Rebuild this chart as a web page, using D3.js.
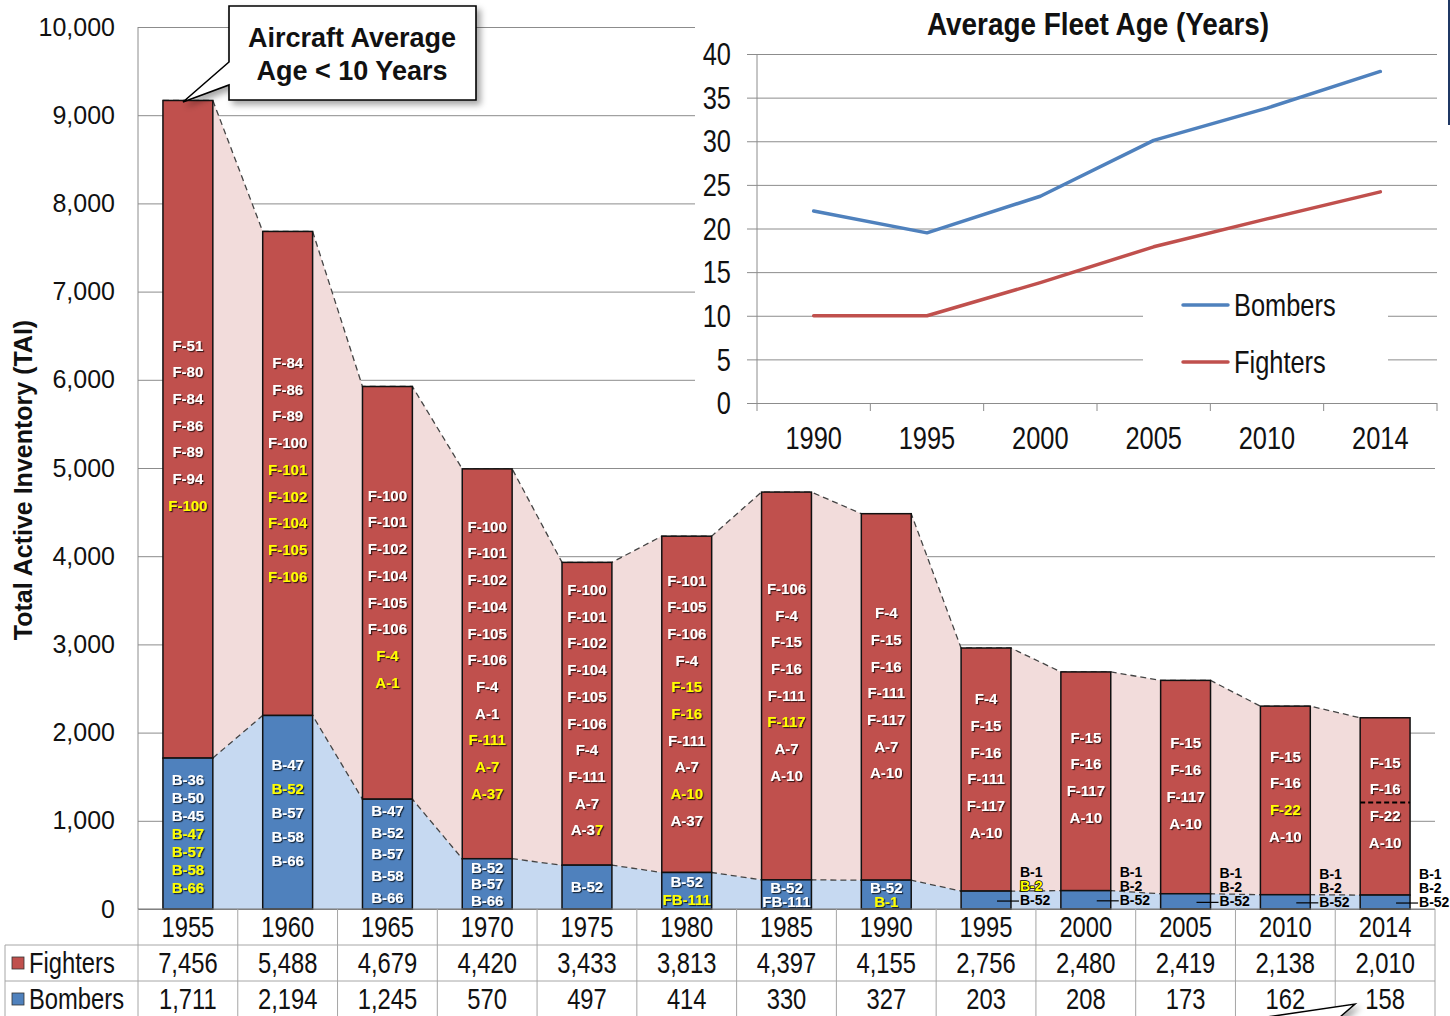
<!DOCTYPE html>
<html>
<head>
<meta charset="utf-8">
<script src="https://cdn.jsdelivr.net/npm/d3@7"></script>
<style>
  body { margin: 0; background: #fff; }
  svg { display: block; }
  text { font-family: 'Liberation Sans', Arial, sans-serif; }
</style>
</head>
<body>
<svg id="chart" width="1450" height="1016"></svg>
<script>

// Inventory by year (from the table)
var years = ["1955", "1960", "1965", "1970", "1975", "1980", "1985", "1990", "1995", "2000", "2005", "2010", "2014"];
var fighters = [7456, 5488, 4679, 4420, 3433, 3813, 4397, 4155, 2756, 2480, 2419, 2138, 2010];
var bombers = [1711, 2194, 1245, 570, 497, 414, 330, 327, 203, 208, 173, 162, 158];

// Aircraft types in each bar ("*" = yellow, text after "|" = yellow)
var fighterTypes = [
    ["F-51", "F-80", "F-84", "F-86", "F-89", "F-94", "*F-100"],
    ["F-84", "F-86", "F-89", "F-100", "*F-101", "*F-102", "*F-104", "*F-105", "*F-106"],
    ["F-100", "F-101", "F-102", "F-104", "F-105", "F-106", "*F-4", "*A-1"],
    ["F-100", "F-101", "F-102", "F-104", "F-105", "F-106", "F-4", "A-1", "*F-111", "*A-7", "*A-37"],
    ["F-100", "F-101", "F-102", "F-104", "F-105", "F-106", "F-4", "F-111", "A-7", "A-3|7"],
    ["F-101", "F-105", "F-106", "F-4", "*F-15", "*F-16", "F-111", "A-7", "*A-10", "A-37"],
    ["F-106", "F-4", "F-15", "F-16", "F-111", "*F-117", "A-7", "A-10"],
    ["F-4", "F-15", "F-16", "F-111", "F-117", "A-7", "A-10"],
    ["F-4", "F-15", "F-16", "F-111", "F-117", "A-10"],
    ["F-15", "F-16", "F-117", "A-10"],
    ["F-15", "F-16", "F-117", "A-10"],
    ["F-15", "F-16", "*F-22", "A-10"],
    ["F-15", "F-16", "F-22", "A-10"]
];
var bomberTypes = [
    ["B-36", "B-50", "B-45", "*B-47", "*B-57", "*B-58", "*B-66"],
    ["B-47", "*B-52", "B-57", "B-58", "B-66"],
    ["B-47", "B-52", "B-57", "B-58", "B-66"],
    ["B-52", "B-57", "B-66"],
    ["B-52"],
    ["B-52", "*FB-111"],
    ["B-52", "FB-111"],
    ["B-52", "*B-1"],
    ["B-1", "*B-2", "B-52"],
    ["B-1", "B-2", "B-52"],
    ["B-1", "B-2", "B-52"],
    ["B-1", "B-2", "B-52"],
    ["B-1", "B-2", "B-52"]
];

// Inset: average fleet age
var ageYears = ["1990", "1995", "2000", "2005", "2010", "2014"];
var bomberAge = [22, 19.5, 23.7, 30.1, 33.8, 38];
var fighterAge = [10, 10, 13.8, 17.9, 21.1, 24.2];

var yTicks = [0, 1000, 2000, 3000, 4000, 5000, 6000, 7000, 8000, 9000, 10000];
var ageTicks = [0, 5, 10, 15, 20, 25, 30, 35, 40];

var RED = "#c0504d", BLUE = "#4f81bd", PINK = "#f2dcdb", LIGHTBLUE = "#c6d9f1";
var YELLOW = "#ffff00", GRID = "#8c8c8c";

var svg = d3.select("#chart");
var defs = svg.append("defs");
defs.append("filter").attr("id", "ts").attr("x", "-20%").attr("y", "-30%").attr("width", "150%").attr("height", "170%")
    .append("feDropShadow").attr("dx", 1.2).attr("dy", 1.2).attr("stdDeviation", 0.7)
    .attr("flood-color", "#000").attr("flood-opacity", 0.7);
defs.append("filter").attr("id", "boxshadow").attr("x", "-10%").attr("y", "-10%").attr("width", "130%").attr("height", "140%")
    .append("feDropShadow").attr("dx", 4).attr("dy", 4).attr("stdDeviation", 3)
    .attr("flood-color", "#000").attr("flood-opacity", 0.35);

var plotL = 138, plotR = 1435, plotB = 909, plotT = 27;

var x = d3.scaleBand().domain(years).range([plotL, plotR]).paddingInner(0.5).paddingOuter(0.25);
var y = d3.scaleLinear().domain([0, 10000]).range([plotB, plotT]);
var bw = x.bandwidth();
var cellLeft = function(d) { return x(d) - x.step() * 0.25; };

// condensed text (no narrow font installed, so squeeze horizontally)
function narrowText(g, tx, ty, str, size, anchor) {
    return g.append("text").attr("transform", "translate(" + tx + "," + ty + ") scale(0.82,1)")
        .attr("dy", "0.36em").attr("text-anchor", anchor || "middle")
        .attr("font-size", size).attr("fill", "#111").text(str);
}

var rows = years.map(function(d, i) {
    return { year: d, f: fighters[i], b: bombers[i], tot: fighters[i] + bombers[i], ft: fighterTypes[i], bt: bomberTypes[i] };
});

// gridlines + y axis
var yAxis = svg.append("g").attr("transform", "translate(" + plotL + ",0)")
    .call(d3.axisLeft(y).tickValues(yTicks).tickSize(-(plotR - plotL)).tickPadding(23).tickFormat(d3.format(",")));
yAxis.select(".domain").remove();
yAxis.selectAll(".tick line").attr("stroke", GRID).attr("stroke-width", 1);
yAxis.selectAll(".tick text").attr("font-size", 25).attr("fill", "#111")
    .style("font-family", "'Liberation Sans', Arial, sans-serif");
svg.append("line").attr("x1", plotL).attr("x2", plotL).attr("y1", plotT).attr("y2", plotB).attr("stroke", GRID);

svg.append("text").attr("transform", "translate(32,480) rotate(-90)")
    .attr("text-anchor", "middle").attr("font-size", 25).attr("font-weight", "bold").attr("fill", "#111")
    .text("Total Active Inventory (TAI)");

// connecting areas
var pts = [];
rows.forEach(function(r) {
    pts.push({ x: x(r.year), r: r });
    pts.push({ x: x(r.year) + bw, r: r });
});
svg.append("path").datum(pts).attr("fill", PINK)
    .attr("d", d3.area().x(function(p) { return p.x; }).y0(function(p) { return y(p.r.b); }).y1(function(p) { return y(p.r.tot); }));
svg.append("path").datum(pts).attr("fill", LIGHTBLUE)
    .attr("d", d3.area().x(function(p) { return p.x; }).y0(y(0)).y1(function(p) { return y(p.r.b); }));
svg.append("path").datum(pts).attr("fill", "none").attr("stroke", "#444").attr("stroke-width", 1.3).attr("stroke-dasharray", "6,4")
    .attr("d", d3.line().x(function(p) { return p.x; }).y(function(p) { return y(p.r.tot); }));
svg.append("path").datum(pts).attr("fill", "none").attr("stroke", "#444").attr("stroke-width", 1.3).attr("stroke-dasharray", "6,4")
    .attr("d", d3.line().x(function(p) { return p.x; }).y(function(p) { return y(p.r.b); }));

// bars
var bars = svg.append("g").selectAll("g").data(rows).enter().append("g");
bars.append("rect").attr("x", function(r) { return x(r.year); }).attr("width", bw)
    .attr("y", function(r) { return y(r.tot); }).attr("height", function(r) { return y(r.b) - y(r.tot); })
    .attr("fill", RED).attr("stroke", "#111").attr("stroke-width", 1.5);
bars.append("rect").attr("x", function(r) { return x(r.year); }).attr("width", bw)
    .attr("y", function(r) { return y(r.b); }).attr("height", function(r) { return y(0) - y(r.b); })
    .attr("fill", BLUE).attr("stroke", "#111").attr("stroke-width", 1.5);

function setLabel(t, lab) {
    if (lab.charAt(0) == "*") {
        t.append("tspan").attr("fill", YELLOW).text(lab.slice(1));
    } else if (lab.indexOf("|") >= 0) {
        var p = lab.split("|");
        t.append("tspan").text(p[0]);
        t.append("tspan").attr("fill", YELLOW).text(p[1]);
    } else {
        t.text(lab);
    }
}

// stacks labels centred in a segment, returns their y positions
function stackLabels(list, cx, y0, y1, maxStep) {
    var n = list.length;
    var step = Math.min(maxStep, (y1 - y0) / n);
    var yc = (y0 + y1) / 2 - 4;
    var ys = [];
    list.forEach(function(lab, i) {
        var ty = yc + (i - (n - 1) / 2) * step;
        ys.push(ty);
        var t = svg.append("text").attr("x", cx).attr("y", ty).attr("dy", "0.36em")
            .attr("text-anchor", "middle").attr("font-weight", "bold").attr("font-size", Math.min(15, step + 1))
            .attr("fill", "#fff").attr("filter", "url(#ts)");
        setLabel(t, lab);
    });
    return ys;
}

var lastYs = [];
rows.forEach(function(r) {
    var cx = x(r.year) + bw / 2;
    lastYs = stackLabels(r.ft, cx, y(r.tot), y(r.b), 26.7);
    var h = y(0) - y(r.b);
    if (r.bt.length * 12 <= h) {
        stackLabels(r.bt, cx, y(r.b) + 4, y(0) + 4, Math.max(18, Math.min(26.7, 120 / r.bt.length)));
    } else {
        // small bomber segment: labels beside the bar
        var xr = x(r.year) + bw;
        var yc = (y(r.b) + y(0)) / 2;
        var n = r.bt.length;
        svg.append("line").attr("x1", xr - 14).attr("x2", xr + 8).attr("y1", yc + 1).attr("y2", yc + 1)
            .attr("stroke", "#000").attr("stroke-width", 1.2);
        r.bt.forEach(function(lab, i) {
            var t = svg.append("text").attr("x", xr + 9).attr("y", yc - (n - 1 - i) * 14).attr("dy", "0.36em")
                .attr("font-weight", "bold").attr("font-size", 14).attr("fill", "#000");
            if (lab.charAt(0) == "*") {
                t.text(lab.slice(1)).attr("fill", YELLOW).attr("stroke", "#000").attr("stroke-width", 1.6)
                    .style("paint-order", "stroke");
            } else {
                t.text(lab);
            }
        });
    }
});

// dashed divider in the 2014 bar, between F-16 and F-22
var last = rows[rows.length - 1];
var divY = (lastYs[1] + lastYs[2]) / 2;
svg.append("line").attr("x1", x(last.year)).attr("x2", x(last.year) + bw)
    .attr("y1", divY).attr("y2", divY)
    .attr("stroke", "#000").attr("stroke-width", 2).attr("stroke-dasharray", "5,3");

// x axis line
svg.append("line").attr("x1", plotL).attr("x2", plotR).attr("y1", plotB).attr("y2", plotB).attr("stroke", "#777").attr("stroke-width", 1.2);

// data table
var TB = "#a6a6a6";
var rowY = [909, 945, 981, 1017];
var table = svg.append("g");
years.forEach(function(d) {
    table.append("line").attr("x1", cellLeft(d)).attr("x2", cellLeft(d)).attr("y1", rowY[0]).attr("y2", rowY[3]).attr("stroke", TB);
});
table.append("line").attr("x1", plotR).attr("x2", plotR).attr("y1", rowY[0]).attr("y2", rowY[3]).attr("stroke", TB);
table.append("line").attr("x1", 5).attr("x2", 5).attr("y1", rowY[1]).attr("y2", rowY[3]).attr("stroke", TB);
[rowY[1], rowY[2]].forEach(function(yy) {
    table.append("line").attr("x1", 5).attr("x2", plotR).attr("y1", yy).attr("y2", yy).attr("stroke", TB);
});
var fmt = d3.format(",");
var cols = [years, fighters.map(fmt), bombers.map(fmt)];
cols.forEach(function(vals, ri) {
    vals.forEach(function(v, i) {
        narrowText(table, x(years[i]) + bw / 2, (rowY[ri] + rowY[ri + 1]) / 2, v, 29);
    });
});
[["Fighters", RED], ["Bombers", BLUE]].forEach(function(s, i) {
    var cy = (rowY[i + 1] + rowY[i + 2]) / 2;
    table.append("rect").attr("x", 12).attr("y", cy - 6).attr("width", 12).attr("height", 12)
        .attr("fill", s[1]).attr("stroke", "#333").attr("stroke-width", 0.8);
    narrowText(table, 29, cy, s[0], 29, "start");
});

// bottom callout tail (cut off at the edge)
svg.append("path").attr("d", "M1267,1017 L1355,1004 L1340,1017")
    .attr("fill", "#fff").attr("stroke", "#000").attr("stroke-width", 1.5).attr("filter", "url(#boxshadow)");

// callout
var co = svg.append("g");
co.append("path").attr("d", "M229,6 L476,6 L476,100 L229,100 L229,85 L183,102 L229,62 Z")
    .attr("fill", "#fff").attr("stroke", "#000").attr("stroke-width", 1.6).attr("filter", "url(#boxshadow)");
co.append("text").attr("x", 352).attr("y", 38).attr("dy", "0.35em").attr("text-anchor", "middle")
    .attr("font-size", 27).attr("font-weight", "bold").attr("fill", "#111").text("Aircraft Average");
co.append("text").attr("x", 352).attr("y", 71).attr("dy", "0.35em").attr("text-anchor", "middle")
    .attr("font-size", 27).attr("font-weight", "bold").attr("fill", "#111").text("Age < 10 Years");

// ---- inset: average fleet age ----
var inset = svg.append("g");
inset.append("rect").attr("x", 695).attr("y", 0).attr("width", 755).attr("height", 455).attr("fill", "#fff");
inset.append("line").attr("x1", 1449).attr("x2", 1449).attr("y1", 0).attr("y2", 125).attr("stroke", "#1f3864").attr("stroke-width", 2);

var ax = d3.scaleBand().domain(ageYears).range([757, 1437]);
var ay = d3.scaleLinear().domain([0, 40]).range([403, 54]);

var ayAxis = inset.append("g").attr("transform", "translate(747,0)")
    .call(d3.axisLeft(ay).tickValues(ageTicks).tickSize(-690).tickFormat(""));
ayAxis.select(".domain").remove();
ayAxis.selectAll(".tick line").attr("stroke", GRID);
ageTicks.forEach(function(v) {
    narrowText(inset, 731, ay(v), v, 31, "end");
});
inset.append("line").attr("x1", 757).attr("x2", 757).attr("y1", 54).attr("y2", 403).attr("stroke", GRID);

ageYears.forEach(function(d) {
    inset.append("line").attr("x1", ax(d)).attr("x2", ax(d)).attr("y1", 403).attr("y2", 411).attr("stroke", GRID);
    narrowText(inset, ax(d) + ax.bandwidth() / 2, 438, d, 31);
});
inset.append("line").attr("x1", 1437).attr("x2", 1437).attr("y1", 403).attr("y2", 411).attr("stroke", GRID);

inset.append("text").attr("transform", "translate(1098,24) scale(0.9,1)").attr("dy", "0.35em").attr("text-anchor", "middle")
    .attr("font-size", 31).attr("font-weight", "bold").attr("fill", "#111").text("Average Fleet Age (Years)");

// legend background covers gridlines
inset.append("rect").attr("x", 1143).attr("y", 280).attr("width", 245).attr("height", 108).attr("fill", "#fff");

var ageLine = d3.line().x(function(d, i) { return ax(ageYears[i]) + ax.bandwidth() / 2; }).y(function(d) { return ay(d); });
[[bomberAge, BLUE, "Bombers", 305], [fighterAge, RED, "Fighters", 362]].forEach(function(s) {
    inset.append("path").datum(s[0]).attr("fill", "none").attr("stroke", s[1]).attr("stroke-width", 3.5)
        .attr("stroke-linejoin", "round").attr("stroke-linecap", "round").attr("d", ageLine);
    inset.append("line").attr("x1", 1183).attr("x2", 1228).attr("y1", s[3]).attr("y2", s[3])
        .attr("stroke", s[1]).attr("stroke-width", 3.5).attr("stroke-linecap", "round");
    narrowText(inset, 1234, s[3], s[2], 31, "start");
});

</script>
</body>
</html>
